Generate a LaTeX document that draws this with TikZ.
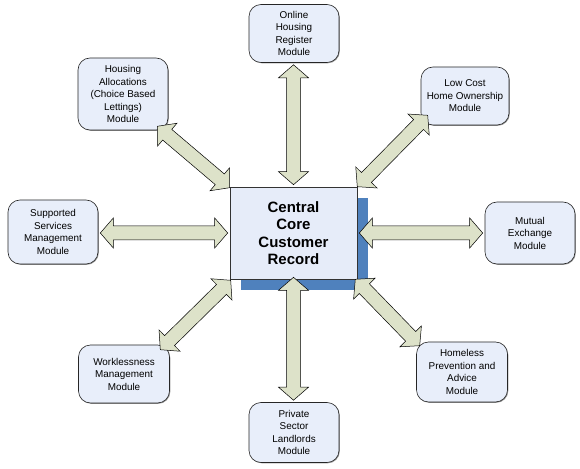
\documentclass[tikz,border=0pt]{standalone}
\usepackage{fontspec}
\setmainfont{Liberation Sans}
\usetikzlibrary{calc,shadows}
\definecolor{modfill}{RGB}{232,238,250}
\definecolor{corefill}{RGB}{230,236,249}
\definecolor{shadowblue}{RGB}{79,129,189}
\definecolor{arrowfill}{RGB}{221,226,201}
\tikzset{
  module/.style={draw=black!85, line width=0.6pt, fill=modfill, rounded corners=12pt,
    minimum width=90pt, minimum height=60pt, inner sep=2pt, align=center,
    font=\fontsize{9.9}{12.5}\selectfont,
    general shadow={fill=black!40, shadow xshift=0.8pt, shadow yshift=-0.8pt}},
  corebox/.style={draw=black!80, line width=0.6pt, fill=corefill,
    minimum width=127pt, minimum height=92pt, inner sep=2pt, align=center,
    font=\fontsize{15}{17.5}\selectfont\bfseries,
    general shadow={fill=shadowblue, shadow xshift=11pt, shadow yshift=-11pt}},
  arrowstyle/.style={draw=black, line width=0.5pt, fill=arrowfill, line join=miter}
}
\newcommand\blockarrow[2]{%
  \coordinate (ba1) at ($(#1)!13pt!(#2)$);
  \coordinate (ba2) at ($(#2)!13pt!(#1)$);
  \draw[arrowstyle] (#1) -- ($(ba1)!15pt!90:(#2)$) -- ($(ba1)!7pt!90:(#2)$)
    -- ($(ba2)!7pt!-90:(#1)$) -- ($(ba2)!15pt!-90:(#1)$) -- (#2)
    -- ($(ba2)!15pt!90:(#1)$) -- ($(ba2)!7pt!90:(#1)$)
    -- ($(ba1)!7pt!-90:(#2)$) -- ($(ba1)!15pt!-90:(#2)$) -- cycle;}
\begin{document}
\begin{tikzpicture}[x=1pt,y=1pt]
\useasboundingbox (0,0) rectangle (580,468);
\node[corebox] (core) at (293.5,235) {Central\\Core\\Customer\\Record};
\node[module, minimum height=58pt] (online) at (294,434.5) {Online\\Housing\\Register\\Module};
\node[module, minimum width=88pt, minimum height=58pt] (lowcost) at (465,372) {Low Cost\\Home Ownership\\Module};
\node[module, minimum height=62pt] (mutual) at (530,235) {Mutual\\Exchange\\Module};
\node[module, minimum width=91pt] (homeless) at (462,96) {Homeless\\Prevention and\\Advice\\Module};
\node[module] (private) at (294,35.5) {Private\\Sector\\Landlords\\Module};
\node[module, minimum width=91pt, minimum height=58pt] (workless) at (124,94) {Worklessness\\Management\\Module};
\node[module, minimum height=72pt] (alloc) at (123,374) {Housing\\Allocations\\(Choice Based\\Lettings)\\Module};
\node[module, minimum height=64pt] (supported) at (53,236) {Supported\\Services\\Management\\Module};
% arrow ends
\coordinate (aT1) at ($(online.south)+(-0.5,-2)$);
\coordinate (aT2) at ($(core.north)+(0,2)$);
\coordinate (aB1) at ($(core.south)+(0,2)$);
\coordinate (aB2) at ($(private.north)+(-0.5,2)$);
\coordinate (aL1) at ($(supported.east |- core.west)+(2,0)$);
\coordinate (aL2) at ($(core.west)+(-2,0)$);
\coordinate (aR1) at ($(core.east)+(2,0)$);
\coordinate (aR2) at ($(mutual.west |- core.east)+(-2,0)$);
\coordinate (aNW1) at ($(alloc.south east)+(-11,4)$);
\coordinate (aNW2) at ($(core.north west)+(0,-1)$);
\coordinate (aNE1) at ($(core.north east)+(0,0)$);
\coordinate (aNE2) at ($(lowcost.south west)+(7,10)$);
\coordinate (aSE1) at ($(core.south east)+(-2,0)$);
\coordinate (aSE2) at ($(homeless.north west)+(3.5,-4)$);
\coordinate (aSW1) at ($(core.south west)+(1,-1)$);
\coordinate (aSW2) at ($(workless.north east)+(-9.5,-5)$);
\blockarrow{aT1}{aT2}
\blockarrow{aB1}{aB2}
\blockarrow{aL1}{aL2}
\blockarrow{aR1}{aR2}
\blockarrow{aNW1}{aNW2}
\blockarrow{aNE1}{aNE2}
\blockarrow{aSE1}{aSE2}
\blockarrow{aSW1}{aSW2}
\end{tikzpicture}
\end{document}
